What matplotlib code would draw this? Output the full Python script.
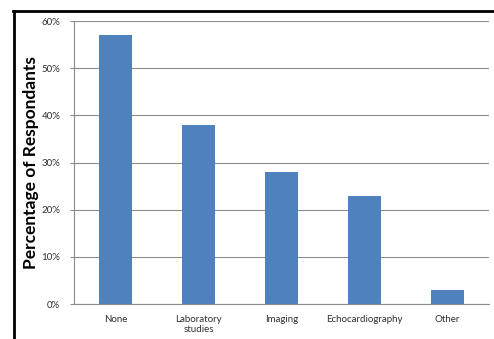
import numpy as np
import matplotlib.pyplot as plt
from matplotlib.lines import Line2D
from matplotlib.ticker import PercentFormatter

plt.rcParams['font.family'] = ['Lato', 'DejaVu Sans']

# survey answers
categories = ['None', 'Laboratory\nstudies', 'Imaging', 'Echocardiography', 'Other']
percent = [57, 38, 28, 23, 3]

fig = plt.figure(figsize=(4.94, 3.39), dpi=100)
ax = fig.add_axes([0.150, 0.103, 0.840, 0.835])

x = np.arange(len(categories))
ax.bar(x, percent, width=0.4, color='#4F81BD', zorder=3)

ax.set_xlim(-0.5, len(categories) - 0.5)
ax.set_ylim(0, 60)
ax.set_yticks(np.arange(0, 61, 10))
ax.yaxis.set_major_formatter(PercentFormatter(decimals=0))
ax.set_xticks(x)
ax.set_xticklabels(categories, fontsize=7, color='#303030', linespacing=1.1)
ax.tick_params(axis='y', labelsize=7, labelcolor='#303030', length=3, color='#8c8c8c', pad=7)
ax.tick_params(axis='x', length=0, pad=8)
ax.grid(axis='y', color='#8c8c8c', linewidth=0.8, zorder=0)

for s in ['top', 'right']:
    ax.spines[s].set_visible(False)
for s in ['left', 'bottom']:
    ax.spines[s].set_color('#8c8c8c')
    ax.spines[s].set_linewidth(0.8)

ax.set_ylabel('Percentage of Respondants', fontsize=12.5, fontweight='bold')
ax.yaxis.set_label_coords(-0.085, 0.5)

# frame lines along the top and left of the picture
fig.add_artist(Line2D([13/494, 1.0], [1 - 11/339, 1 - 11/339], color='black', linewidth=2.0, transform=fig.transFigure))
fig.add_artist(Line2D([14/494, 14/494], [0, 1 - 11/339], color='black', linewidth=2.0, transform=fig.transFigure))

plt.savefig('out.png', dpi=100)
